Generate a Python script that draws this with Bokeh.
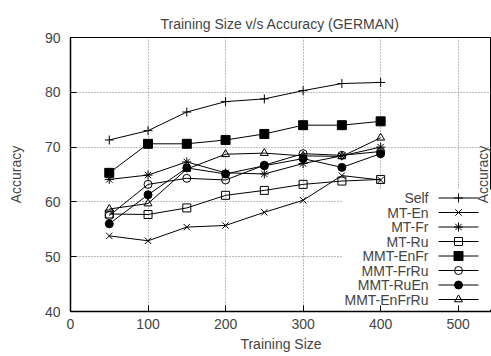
import numpy as np
from bokeh.plotting import figure
from bokeh.models import Range1d, BoxAnnotation, Label, FixedTicker
from bokeh.embed import file_html
from bokeh.resources import INLINE

sizes = [50, 100, 150, 200, 250, 300, 350, 400]
self_acc = [71.3, 73.0, 76.4, 78.3, 78.8, 80.3, 81.6, 81.8]
mt_en = [53.8, 52.9, 55.4, 55.7, 58.1, 60.3, 64.8, 64.0]
mt_fr = [64.1, 64.9, 67.3, 65.3, 65.1, 67.0, 68.4, 70.0]
mt_ru = [57.8, 57.7, 58.9, 61.2, 62.1, 63.2, 63.8, 64.1]
mmt_enfr = [65.3, 70.6, 70.6, 71.3, 72.4, 74.0, 74.0, 74.7]
mmt_frru = [57.5, 63.2, 64.3, 64.0, 66.7, 68.8, 68.5, 69.2]
mmt_ruen = [56.0, 61.3, 66.2, 65.1, 66.6, 67.9, 66.3, 68.8]
mmt_enfrru = [58.7, 59.7, 66.0, 68.7, 68.9, 68.4, 68.3, 71.7]

series_names = ["Self", "MT-En", "MT-Fr", "MT-Ru", "MMT-EnFr", "MMT-FrRu", "MMT-RuEn", "MMT-EnFrRu"]
series_values = [self_acc, mt_en, mt_fr, mt_ru, mmt_enfr, mmt_frru, mmt_ruen, mmt_enfrru]
markers = ["cross", "x", "asterisk", "square", "square", "circle", "circle", "triangle"]
filled = [False, False, False, False, True, False, True, False]
msizes = [9, 9, 9, 8, 9, 8, 8, 8]

x_ticks = [0, 100, 200, 300, 400, 500]
y_ticks = [40, 50, 60, 70, 80, 90]

FONT = "Liberation Sans"
W, H = 491, 356
ML, MT, MB = 70, 37, 45
XMAX = 543
YMIN, YMAX = 40, 90

p = figure(width=W, height=H, output_backend="svg", toolbar_location=None,
           x_range=Range1d(0, XMAX), y_range=Range1d(YMIN, YMAX),
           min_border_left=ML, min_border_top=MT, min_border_bottom=MB, min_border_right=0)

p.title.text = "Training Size v/s Accuracy (GERMAN)"
p.title.text_font = FONT
p.title.text_font_style = "normal"
p.title.text_font_size = "14px"
p.title.align = "left"
p.title.offset = 90
p.title.standoff = 11

p.outline_line_color = "black"
p.outline_line_width = 1
p.background_fill_color = "white"
p.border_fill_color = "white"

for ax in (p.xaxis[0], p.yaxis[0]):
    ax.axis_line_color = "black"
    ax.axis_line_width = 1.5
    ax.major_tick_in = 6
    ax.major_tick_out = 0
    ax.minor_tick_line_color = None
    ax.major_label_text_font = FONT
    ax.major_label_text_font_size = "14px"
    ax.axis_label_text_font = FONT
    ax.axis_label_text_font_size = "14px"
    ax.axis_label_text_font_style = "normal"

p.xaxis.ticker = FixedTicker(ticks=x_ticks)
p.yaxis.ticker = FixedTicker(ticks=y_ticks)
p.xaxis.axis_label = "Training Size"
p.yaxis.axis_label = "Accuracy"
p.xaxis.major_label_standoff = 7
p.xaxis.axis_label_standoff = 4
p.yaxis.major_label_standoff = 10
p.yaxis.axis_label_standoff = 18

for g in (p.xgrid[0], p.ygrid[0]):
    g.grid_line_color = "#777777"
    g.grid_line_dash = "1 2"
    g.grid_line_width = 1
p.xgrid.ticker = FixedTicker(ticks=x_ticks)
p.ygrid.ticker = FixedTicker(ticks=y_ticks)

# pixel (frame-relative) -> data helpers
fw = W - ML
fh = H - MT - MB
def px_x(sx):
    return sx / fw * XMAX
def px_y(sy):
    return YMAX - sy / fh * (YMAX - YMIN)

# legend background hiding the grid
p.add_layout(BoxAnnotation(left=px_x(272), right=XMAX, bottom=YMIN + 0.3, top=px_y(152),
                           fill_color="white", fill_alpha=1, line_color=None, level="underlay"))

for name, vals, mk, fl, ms in zip(series_names, series_values, markers, filled, msizes):
    p.line(sizes, vals, line_color="black", line_width=1)
    p.scatter(sizes, vals, marker=mk, size=ms, line_color="black", line_width=1,
              fill_color="black" if fl else None)

# legend: label right-aligned, sample on the right
row0 = 160.5
step = 14.5
for i, (name, mk, fl, ms) in enumerate(zip(series_names, markers, filled, msizes)):
    yy = px_y(row0 + i * step)
    p.add_layout(Label(x=px_x(358), y=yy, text=name, text_align="right", text_baseline="middle",
                       text_font=FONT, text_font_size="14px"))
    p.line([px_x(368), px_x(408)], [yy, yy], line_color="black", line_width=1)
    p.scatter([px_x(388)], [yy], marker=mk, size=ms, line_color="black", line_width=1,
              fill_color="black" if fl else None)

# right-side label, kept inside the picture
p.add_layout(Label(x=px_x(420), y=px_y(137), text="Accuracy", angle=np.pi / 2,
                   text_align="center", text_baseline="bottom",
                   text_font=FONT, text_font_size="14px"))

open("out.html", "w").write(file_html(p, INLINE))
